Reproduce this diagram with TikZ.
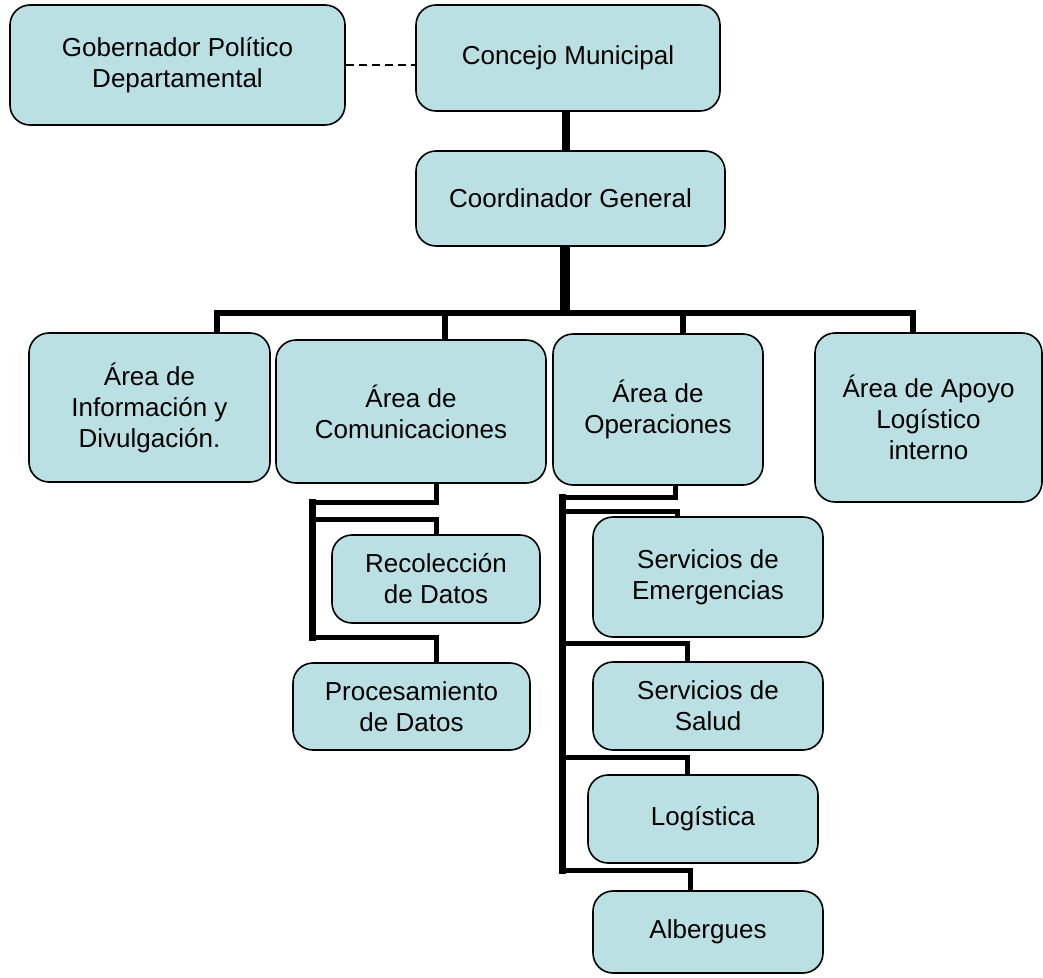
\documentclass[tikz,border=0pt]{standalone}
\usepackage{fontspec}
\setmainfont{Liberation Sans}
\usetikzlibrary{backgrounds}
\definecolor{boxfill}{RGB}{187,224,227}
\begin{document}
\begin{tikzpicture}[x=1pt,y=-1pt,
  box/.style={rectangle,draw=black,line width=1.6pt,fill=boxfill,rounded corners=20pt,inner sep=0pt,align=center,font=\fontsize{26}{31}\selectfont},
  bus/.style={line width=5.5pt,line cap=rect},
  link/.style={line width=5pt,line cap=rect},
  trunk/.style={line width=7pt,line cap=rect}]
\useasboundingbox (0,0) rectangle (1043,977);

\node at (177.5,65) [box,minimum width=335pt,minimum height=120pt] (gobernador) {Gobernador Político\\
									    Departamental};
\node at (568,58) [box,minimum width=304pt,minimum height=106pt] (concejo) {Concejo Municipal};
\node at (570.5,198.5) [box,minimum width=309pt,minimum height=95pt] (coordinador) {Coordinador General};

\node at (149.5,407.5) [box,minimum width=241pt,minimum height=149pt] (info) {Área de\\
									    Información y\\
									    Divulgación.};
\node at (411,411.5) [box,minimum width=270pt,minimum height=143pt] (comunic) {Área de\\
									    Comunicaciones};
\node at (658,409.5) [box,minimum width=210pt,minimum height=151pt] (operac) {Área de\\
									    Operaciones};
\node at (928.5,417.5) [box,minimum width=227pt,minimum height=169pt] (apoyo) {Área de Apoyo\\
									    Logístico\\
									    interno};

\node at (436,579) [box,minimum width=208pt,minimum height=88pt] (recoleccion) {Recolección\\
									    de Datos};
\node at (411.5,706.5) [box,minimum width=237pt,minimum height=87pt] (procesam) {Procesamiento\\
									    de Datos};

\node at (708,577) [box,minimum width=230pt,minimum height=120pt] (emerg) {Servicios de\\
									    Emergencias};
\node at (708,706) [box,minimum width=230pt,minimum height=88pt] (salud) {Servicios de\\
									    Salud};
\node at (703,819) [box,minimum width=230pt,minimum height=88pt] (logistica) {Logística};
\node at (708,932) [box,minimum width=230pt,minimum height=82pt] (albergues) {Albergues};

\coordinate (bus) at (564.5,313);
\coordinate (comA) at (312,502);
\coordinate (comB) at (312,637);
\coordinate (comC) at (312,519);
\coordinate (opA) at (562,497);
\coordinate (opB) at (562,870);
\coordinate (opC) at (562,511);
\coordinate (opD) at (562,643);
\coordinate (opE) at (562,757);

\begin{scope}[on background layer]
\draw[line width=1.6pt,dash pattern=on 8pt off 5pt] (gobernador.east) -- (gobernador.east -| concejo.west);
\draw[line width=8pt] ([xshift=-2pt]concejo.south) -- ([xshift=-2pt]concejo.south |- coordinador.north);
\draw[line width=10pt] ([xshift=-6pt]coordinador.south) -- (bus);

\draw[bus] ([xshift=67.5pt]info.north) |- (bus) -| ([xshift=-15.5pt]apoyo.north);
\draw[bus] ([xshift=34pt]comunic.north) |- (bus);
\draw[bus] ([xshift=25pt]operac.north) |- (bus);

\draw[link] ([xshift=25pt]comunic.south) |- (comA);
\draw[trunk] (comA) -- (comB);
\draw[link] (comC) -| (recoleccion.north);
\draw[link] (comB) -| ([xshift=24.5pt]procesam.north);

\draw[link] ([xshift=17pt]operac.south) |- (opA);
\draw[trunk] (opA) -- (opB);
\draw[link] (opC) -| ([xshift=-31pt]emerg.north);
\draw[link] (opD) -| ([xshift=-21pt]salud.north);
\draw[link] (opE) -| ([xshift=-16pt]logistica.north);
\draw[link] (opB) -| ([xshift=-18pt]albergues.north);
\end{scope}
\end{tikzpicture}
\end{document}
